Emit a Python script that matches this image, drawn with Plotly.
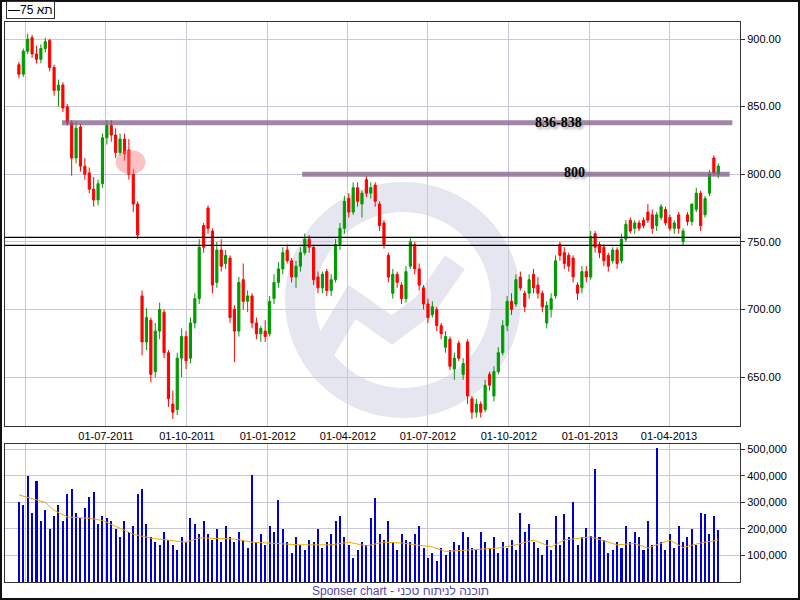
import plotly.graph_objects as go
import pandas as pd

# ---------------- data ----------------
dates = pd.date_range("2011-03-24", periods=160, freq="5D")

opens = [881,874,891,901,889,885,893,899,879,862,866,850,838,812,835,806,801,789,781,793,
         827,836,829,816,826,818,800,778,710,676,692,654,684,698,668,630,626,664,680,664,
         690,708,762,775,758,720,744,734,738,700,684,722,706,710,690,682,684,682,708,720,
         730,744,736,724,732,742,752,746,724,716,728,714,722,748,760,782,772,790,778,796,
         786,792,778,764,740,712,726,718,708,732,748,730,716,704,696,700,688,672,678,656,
         675,652,676,634,624,630,626,652,636,654,668,688,706,704,724,712,712,726,718,712,
         690,700,710,748,742,740,738,718,716,728,724,756,748,746,740,736,744,736,752,766,
         760,764,766,772,770,762,768,774,768,760,770,750,770,765,774,786,770,786,812,800]
highs = [883,893,904,903,895,896,901,900,881,870,868,852,840,839,837,812,805,798,796,830,
         840,840,834,830,830,826,804,780,714,701,694,690,705,700,670,640,668,686,684,694,
         712,752,764,777,760,750,752,744,740,703,724,734,714,712,694,688,692,710,726,735,
         746,748,738,736,746,756,755,748,728,728,730,726,752,764,784,786,794,794,788,799,
         794,794,780,766,742,730,728,720,732,754,750,734,718,708,706,702,690,684,680,668,
         677,664,678,636,634,632,648,654,658,672,692,710,712,726,728,714,726,730,724,714,
         706,712,740,750,746,742,740,720,732,732,758,758,750,748,742,746,746,756,766,768,
         766,766,768,778,774,772,778,776,770,766,772,760,772,778,790,788,784,803,814,808]
lows = [871,872,889,886,882,882,890,876,858,850,846,836,799,808,802,796,786,776,777,790,
        822,824,812,814,810,796,772,752,666,670,646,650,678,664,628,619,622,650,656,660,
        686,704,742,756,712,716,728,730,690,661,680,700,698,686,678,676,676,680,704,716,
        726,734,720,716,728,740,742,718,712,712,710,710,720,744,756,768,770,776,768,783,
        782,776,758,745,720,708,716,704,705,730,726,714,700,690,694,684,678,668,655,648,
        662,648,630,619,620,620,624,640,632,652,666,684,696,702,714,698,708,712,708,698,
        686,694,708,736,730,728,720,707,712,720,722,742,738,732,728,734,730,734,750,756,
        756,758,760,764,756,758,766,762,758,756,756,747,762,762,772,758,768,784,799,797]
closes = [874,891,900,889,885,893,898,879,862,866,849,838,812,834,806,800,789,781,793,827,
          836,829,816,826,815,800,778,755,676,694,652,684,700,668,634,624,664,680,662,690,
          708,746,746,760,718,744,732,740,694,684,720,706,710,690,682,686,680,706,720,730,
          742,736,724,732,742,752,746,722,716,726,714,722,748,760,780,772,790,780,786,786,
          790,780,762,748,724,726,720,708,728,750,730,718,704,694,702,688,682,680,658,664,
          664,660,636,624,630,624,644,644,654,668,688,706,700,722,716,702,722,716,712,702,
          703,708,736,740,734,732,724,712,728,724,754,746,742,736,732,744,734,752,763,758,
          764,760,762,766,760,770,776,764,760,764,760,758,765,778,786,762,782,800,801,806]
volume_k = [300,290,400,260,380,230,270,200,250,290,230,330,350,260,240,280,320,340,220,250,
            240,230,200,170,230,190,210,330,350,220,170,150,140,190,160,140,120,170,150,240,
            220,180,230,180,160,200,150,210,170,150,190,160,130,405,150,180,140,210,190,310,
            200,150,110,170,140,120,160,150,200,130,150,180,230,250,170,140,90,120,150,140,
            240,315,180,160,230,150,120,180,160,150,180,210,130,90,110,80,130,100,120,150,
            140,190,170,130,120,190,150,130,170,110,150,130,160,120,260,190,220,150,130,100,
            160,120,250,140,255,170,300,140,170,205,175,425,170,160,110,120,150,130,210,150,
            190,170,120,230,140,505,150,120,180,130,210,150,170,200,140,260,255,180,250,195]
ma_index = [0,2,6,8,11,16,19,22,26,30,34,38,41,49,53,56,64,71,75,79,83,87,94,97,102,109,
            113,117,121,124,130,136,140,143,148,151,155,159]
ma_k = [328,318,300,270,245,240,232,210,180,165,158,150,166,162,150,147,140,140,150,136,
        150,147,132,115,121,128,140,158,132,158,170,140,145,128,158,130,147,158]

tick_dates = ["2011-04-01", "2011-07-01", "2011-10-01", "2012-01-01", "2012-04-01",
              "2012-07-01", "2012-10-01", "2013-01-01", "2013-04-01"]
tick_labels = ["", "01-07-2011", "01-10-2011", "01-01-2012", "01-04-2012",
               "01-07-2012", "01-10-2012", "01-01-2013", "01-04-2013"]
price_ticks = [650, 700, 750, 800, 850, 900]
vol_ticks = [100000, 200000, 300000, 400000, 500000]
vol_labels = ["100,000", "200,000", "300,000", "400,000", "500,000"]
resistance_hi = 838
resistance_lo = 800
support_a = 753.3
support_b = 747.4
series_name = "תא 75"
footer_he = "תוכנה לניתוח טכני"

# ---------------- figure ----------------
GRID = "#c9c9d9"
FONT = "Liberation Sans, Arial, sans-serif"
LRO, PDF = "\u202d", "\u202c"

def px(xp):  # pixel -> paper x
    return (xp - 5) / 735.0

def py(yp):  # pixel -> paper y
    return (582 - yp) / 560.0

fig = go.Figure()

fig.add_trace(go.Candlestick(
    x=dates, open=opens, high=highs, low=lows, close=closes,
    increasing=dict(line=dict(color="#009a00", width=1), fillcolor="#009a00"),
    decreasing=dict(line=dict(color="#ff0000", width=1), fillcolor="#ff0000"),
    whiskerwidth=0, xaxis="x", yaxis="y", showlegend=False, hoverinfo="skip"))

fig.add_trace(go.Bar(
    x=dates, y=[v * 1000 for v in volume_k], marker=dict(color="#0000d0", line=dict(width=0)),
    width=2.3 * 86400000, xaxis="x2", yaxis="y2", showlegend=False, hoverinfo="skip"))

fig.add_trace(go.Scatter(
    x=[dates[i] for i in ma_index], y=[v * 1000 for v in ma_k], mode="lines",
    line=dict(color="#f0a800", width=1), xaxis="x2", yaxis="y2",
    showlegend=False, hoverinfo="skip"))

xrange = ["2011-03-08 05:00", "2013-06-20 17:00"]

shapes = []
# watermark logo (ring + wave), below grid
shapes.append(dict(type="circle", xref="paper", yref="paper",
                   x0=px(403 - 103), x1=px(403 + 103), y0=py(300 + 103), y1=py(300 - 103),
                   line=dict(color="#e6e6f1", width=30), layer="below"))
wave = [(322, 352), (352, 302), (392, 330), (425, 305), (455, 262)]
path = "M " + " L ".join(f"{px(a):.4f},{py(b):.4f}" for a, b in wave)
shapes.append(dict(type="path", xref="paper", yref="paper", path=path,
                   line=dict(color="#e6e6f1", width=24), layer="below"))
# support lines
for lvl in (support_a, support_b):
    shapes.append(dict(type="line", xref="paper", yref="y", x0=0, x1=1, y0=lvl, y1=lvl,
                       line=dict(color="#000000", width=1.3), layer="above"))
# resistance lines
shapes.append(dict(type="line", xref="x", yref="y", x0="2011-05-12", x1="2013-06-12",
                   y0=resistance_hi, y1=resistance_hi,
                   line=dict(color="rgba(130,95,135,0.75)", width=5), layer="above"))
shapes.append(dict(type="line", xref="x", yref="y", x0="2012-02-09", x1="2013-06-09",
                   y0=resistance_lo, y1=resistance_lo,
                   line=dict(color="rgba(130,95,135,0.75)", width=5), layer="above"))
# pink marker circle
shapes.append(dict(type="circle", xref="x", yref="y", x0="2011-07-12", x1="2011-08-15",
                   y0=800, y1=818, line=dict(width=0),
                   fillcolor="rgba(255,120,120,0.45)", layer="above"))
# outer frame
shapes.append(dict(type="rect", xref="paper", yref="paper",
                   x0=px(1), x1=px(799), y0=py(599), y1=py(1),
                   line=dict(color="#111111", width=2), layer="above"))

legend_text = LRO + "\u2014" + "75 " + series_name.split(" ")[0][::-1] + PDF
footer_text = LRO + "Sponser chart - " + footer_he[::-1] + PDF

annotations = [
    dict(text="836-838", x="2012-11-26", y=resistance_hi, xref="x", yref="y",
         showarrow=False, font=dict(family="Liberation Serif, serif", size=14, color="black",
                                    weight="bold", shadow="2px 2px 3px #999")),
    dict(text="800", x="2012-12-15", y=resistance_lo + 1, xref="x", yref="y",
         showarrow=False, font=dict(family="Liberation Serif, serif", size=14, color="black",
                                    weight="bold", shadow="2px 2px 3px #999")),
    dict(text=legend_text, x=px(6), y=py(10.5), xref="paper", yref="paper",
         xanchor="left", yanchor="middle", showarrow=False,
         bordercolor="#333333", borderwidth=1, borderpad=1, bgcolor="white",
         font=dict(family=FONT, size=12, color="black")),
    dict(text=footer_text, x=px(400), y=py(591),
         xref="paper", yref="paper", xanchor="center", yanchor="middle", showarrow=False,
         font=dict(family=FONT, size=12, color="#5346b0")),
]

fig.update_layout(
    width=800, height=600,
    margin=dict(l=5, r=60, t=22, b=18, autoexpand=False),
    paper_bgcolor="white", plot_bgcolor="white",
    showlegend=False,
    font=dict(family=FONT, size=11, color="black"),
    shapes=shapes, annotations=annotations,
    bargap=0,
    xaxis=dict(domain=[0, 1], anchor="y", type="date", range=xrange,
               tickmode="array", tickvals=tick_dates, ticktext=tick_labels,
               showgrid=True, gridcolor=GRID, gridwidth=1,
               showline=True, mirror=True, linecolor="#333333", linewidth=1,
               ticks="", tickfont=dict(size=11), rangeslider=dict(visible=False),
               zeroline=False, automargin=False),
    yaxis=dict(domain=[py(426), 1], anchor="x", side="right", range=[613.8, 912.6],
               tickmode="array", tickvals=price_ticks, tickformat=".2f",
               showgrid=True, gridcolor=GRID, gridwidth=1,
               showline=True, mirror=True, linecolor="#333333", linewidth=1,
               ticks="outside", ticklen=4, tickcolor="#333333",
               tickfont=dict(size=11), zeroline=False, automargin=False),
    xaxis2=dict(domain=[0, 1], anchor="y2", type="date", matches="x",
                tickmode="array", tickvals=tick_dates, showticklabels=False,
                showgrid=True, gridcolor=GRID, gridwidth=1,
                showline=True, mirror=True, linecolor="#333333", linewidth=1,
                ticks="", zeroline=False, automargin=False),
    yaxis2=dict(domain=[0, py(444)], anchor="x2", side="right", range=[0, 520000],
                tickmode="array", tickvals=vol_ticks, ticktext=vol_labels,
                showgrid=True, gridcolor=GRID, gridwidth=1,
                showline=True, mirror=True, linecolor="#333333", linewidth=1,
                ticks="outside", ticklen=4, tickcolor="#333333",
                tickfont=dict(size=11), zeroline=False, automargin=False),
)

fig.write_html("out.html", config={"displayModeBar": False},
               post_script="document.body.style.margin='0';document.body.style.overflow='hidden';")
